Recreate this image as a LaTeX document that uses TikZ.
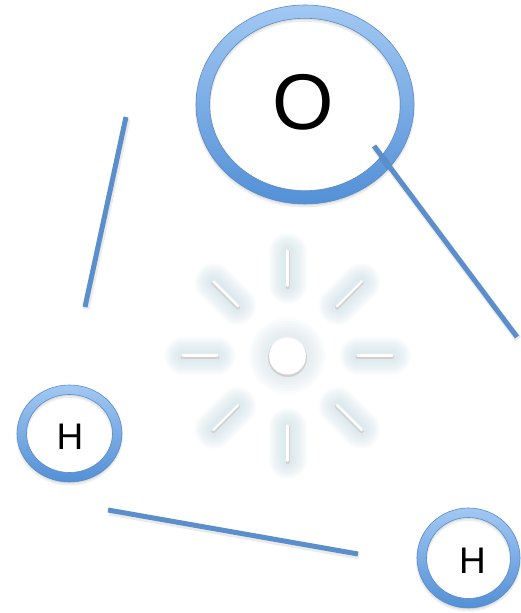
\documentclass[tikz,border=0pt]{standalone}
\usepackage{fontspec}
\setmainfont{Liberation Sans}
\usetikzlibrary{calc}
\definecolor{ringtop}{HTML}{A2C8F3}
\definecolor{ringbot}{HTML}{5390D6}
\definecolor{ringedge}{HTML}{5B8CC6}
\definecolor{bondblue}{HTML}{5A8FCC}
\definecolor{glowblue}{HTML}{CFE0E8}
\tikzset{
  ringbody/.style={even odd rule, top color=ringtop, bottom color=ringbot, draw=ringedge, line width=0.6pt},
  ringshadow/.style={even odd rule, fill=black, opacity=0.07},
  bond/.style={draw=bondblue, line width=5pt},
  bondshadow/.style={draw=black, opacity=0.08, line width=7pt},
  atomlabel/.style={inner sep=0pt, anchor=center, text=black},
  glowlayer/.style={draw=glowblue, line width=#1, line cap=round, opacity=0.11},
  raycore/.style={draw=black!18, line width=4pt, line cap=round},
  rayhi/.style={draw=white, line width=2.4pt, line cap=round}
}
\newcommand\myring[7]{%
  \path[ringshadow] (#1,#2-2.5) ellipse [x radius=#3+1, y radius=#4+1] (#1,#2-2.5) ellipse [x radius=#5-1, y radius=#6-1];
  \path[ringshadow] (#1,#2-1.5) ellipse [x radius=#3, y radius=#4] (#1,#2-1.5) ellipse [x radius=#5, y radius=#6];
  \path[ringbody] (#1,#2) ellipse [x radius=#3, y radius=#4] (#1,#2) ellipse [x radius=#5, y radius=#6];
  \coordinate (#7) at (#1,#2);
}
\begin{document}
\begin{tikzpicture}[x=1pt,y=1pt]
\useasboundingbox (0,0) rectangle (520,613);
\fill[white] (0,0) rectangle (520,613);

% sun glyph
\coordinate (sun) at (287.5,257);
\foreach \a in {0,45,...,315}{
  \foreach \w in {38,34,...,10}{
    \draw[glowlayer=\w pt] ($(sun)+(\a:71)$) -- ($(sun)+(\a:104)$);
  }
}
\foreach \r in {38,35,...,21}{
  \fill[glowblue, opacity=0.1] (sun) circle (\r);
}
\foreach \a in {0,45,...,315}{
  \draw[raycore] ($(sun)+(\a:70)+(0,-1)$) -- ($(sun)+(\a:105)+(0,-1)$);
  \draw[rayhi] ($(sun)+(\a:70)+(0,0.3)$) -- ($(sun)+(\a:105)+(0,0.3)$);
}
\fill[black!18] ($(sun)+(0,-1.5)$) circle (19.5);
\fill[white] (sun) circle (18.5);

% rings
\myring{305}{508.5}{109}{99.5}{95.3}{86.2}{Oring}
\myring{69.5}{179.5}{52.5}{48.5}{43}{39}{H1ring}
\myring{468.5}{55}{51.5}{50}{42}{40.5}{H2ring}

\node[atomlabel, font=\fontsize{79}{79}\selectfont] (O) at (303.7,510.3) {O};
\node[atomlabel, font=\fontsize{37}{37}\selectfont] (H1) at (70,176) {H};
\node[atomlabel, font=\fontsize{37}{37}\selectfont] (H2) at (472.5,52.5) {H};

% bonds
\coordinate (b1a) at (126,496);
\coordinate (b1b) at (85,306);
\coordinate (b2a) at (374,467);
\coordinate (b2b) at (517,276);
\coordinate (b3a) at (108,103);
\coordinate (b3b) at (358,59);
\draw[bondshadow] ($(b1a)+(1,-2)$) -- ($(b1b)+(1,-2)$);
\draw[bondshadow] ($(b2a)+(1,-2)$) -- ($(b2b)+(1,-2)$);
\draw[bondshadow] ($(b3a)+(1,-2)$) -- ($(b3b)+(1,-2)$);
\draw[bond] (b1a) -- (b1b);
\draw[bond] (b2a) -- (b2b);
\draw[bond] (b3a) -- (b3b);
\end{tikzpicture}
\end{document}
